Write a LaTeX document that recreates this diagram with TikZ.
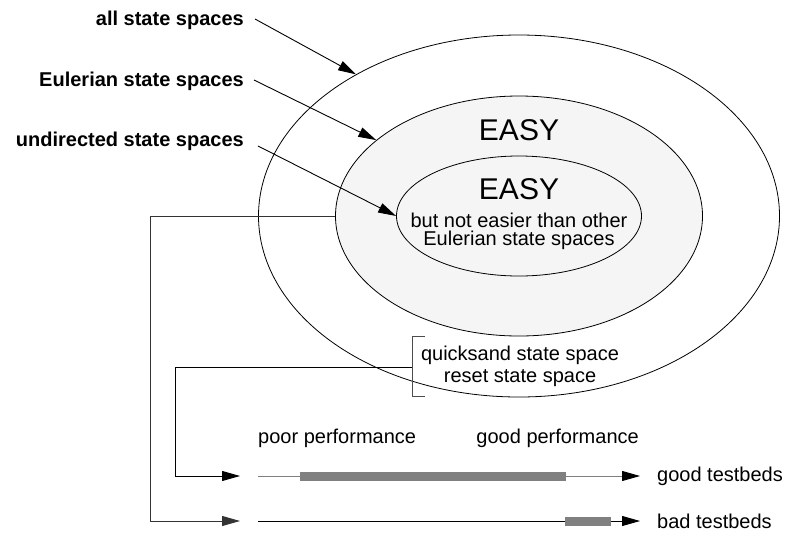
\documentclass[tikz,border=0pt]{standalone}
\usepackage{fontspec}
\setmainfont{Liberation Sans}
\usetikzlibrary{arrows.meta,shapes.geometric}
\definecolor{regionfill}{HTML}{F5F5F5}
\definecolor{barfill}{HTML}{808080}
\tikzset{
  ring/.style={draw=black, line width=0.8pt, shape=ellipse, inner sep=0pt},
  lbl/.style={font=\fontsize{20}{21}\selectfont\bfseries, inner sep=0pt},
  txt/.style={font=\fontsize{20}{21}\selectfont, inner sep=0pt},
  big/.style={font=\fontsize{30}{32}\selectfont, inner sep=0pt},
  tip/.style={-{Triangle[length=18pt,width=10pt]}},
  wire/.style={line width=0.9pt, draw=black},
  bar/.style={fill=barfill, draw=none}
}
\begin{document}
\begin{tikzpicture}[x=1pt, y=-1pt]
\useasboundingbox (0,0) rectangle (786,539);

% nested classes of state spaces
\node[ring, minimum width=521pt, minimum height=362pt] (outer) at (519,216) {};
\node[ring, fill=regionfill, minimum width=367pt, minimum height=240pt] (middle) at (519,216) {};
\node[ring, fill=regionfill, minimum width=245pt, minimum height=120pt] (inner) at (519,216) {};

\node[big, anchor=base] (easyA) at (519,140) {EASY};
\node[big, anchor=base] (easyB) at (519,199) {EASY};
\node[txt, anchor=base] (noteA) at (519,227) {but not easier than other};
\node[txt, anchor=base] (noteB) at (519,245) {Eulerian state spaces};

% class labels
\node[lbl, anchor=base east] (lall) at (244,25) {all state spaces};
\node[lbl, anchor=base east] (leul) at (244,86) {Eulerian state spaces};
\node[lbl, anchor=base east] (lund) at (244,146) {undirected state spaces};

\coordinate (sall) at (255,19);
\coordinate (seul) at (254,80);
\coordinate (sund) at (258,146);

\draw[wire, tip] (sall) -- (outer.139);
\draw[wire, tip] (seul) -- (middle.152.7);
\draw[wire, tip] (sund) -- (inner.west);

% quicksand / reset bracket
\node[txt, anchor=base] (qsA) at (520,360) {quicksand state space};
\node[txt, anchor=base] (qsB) at (520,382) {reset state space};
\draw[line width=0.9pt, draw=black!70] (425,336) -- (412,336) -- (412,396) -- (425,396);
\coordinate (brk) at (412,367);

% performance scales
\node[txt, anchor=west] (poor) at (258,438) {poor performance};
\node[txt, anchor=east] (good) at (639,438) {good performance};

\coordinate (gin) at (240,476);
\coordinate (g0) at (258,476);
\coordinate (g1) at (630,476);
\coordinate (g2) at (640,476);
\coordinate (bin) at (240,521);
\coordinate (b0) at (258,521);
\coordinate (b1) at (630,521);
\coordinate (b2) at (640,521);

\draw[line width=0.9pt, draw=barfill] (g0) -- (g1);
\draw[bar] (300,471.5) rectangle (566,480.5);
\draw[wire, tip] (622,476) -- (g2);
\node[txt, anchor=west] (goodtb) at (657,476) {good testbeds};

\draw[line width=0.9pt] (b0) -- (b1);
\draw[bar] (565,516.5) rectangle (611,525.5);
\draw[wire, tip] (622,521) -- (b2);
\node[txt, anchor=west] (badtb) at (657,521) {bad testbeds};

% routing of the classes onto the scales
\draw[wire, tip] (brk) -| (175,476) -- (gin);
\draw[wire, draw=black!80, tip] (middle.west) -| (150,521) -- (bin);
\end{tikzpicture}
\end{document}
